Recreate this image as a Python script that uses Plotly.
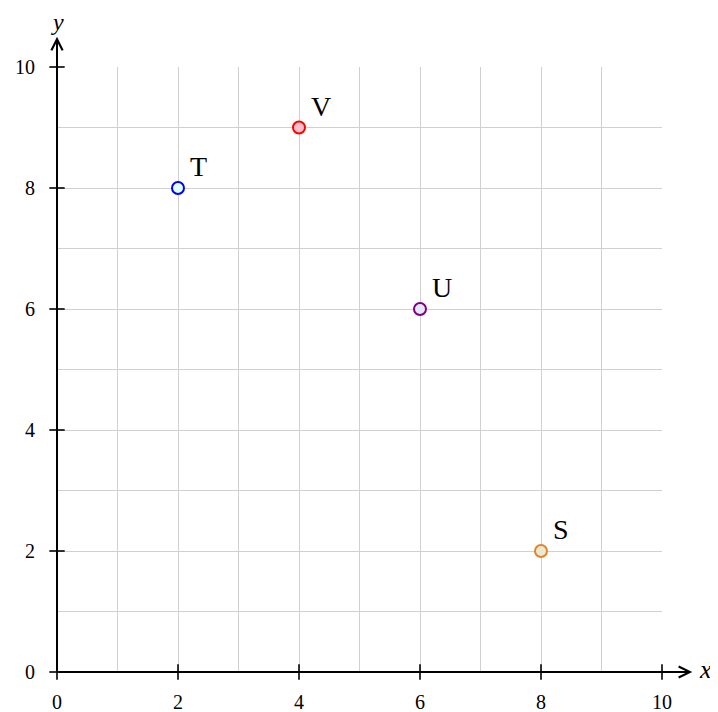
import plotly.graph_objects as go

# ---- data ----
labels = ["T", "V", "U", "S"]
xs = [2, 4, 6, 8]
ys = [8, 9, 6, 2]
edge_colors = ["#0000FF", "#FF0000", "#800080", "#E0862A"]
fill_colors = ["#E0FFFF", "#FFC0CB", "#E6E6FA", "#EDE8CF"]

tick_vals = [0, 2, 4, 6, 8, 10]
grid_vals = list(range(0, 11))
axis_max = 10
arrow_end = 10.5

FONT = "Liberation Serif"

fig = go.Figure()

# tick marks crossing the axes
fig.add_trace(go.Scatter(
    x=tick_vals, y=[0] * len(tick_vals), mode="markers",
    marker=dict(symbol="line-ns", size=11, line=dict(color="black", width=1.6)),
    cliponaxis=False, hoverinfo="skip", showlegend=False))
fig.add_trace(go.Scatter(
    x=[0] * len(tick_vals), y=tick_vals, mode="markers",
    marker=dict(symbol="line-ew", size=11, line=dict(color="black", width=1.6)),
    cliponaxis=False, hoverinfo="skip", showlegend=False))

# axis arrows
fig.add_annotation(x=arrow_end, y=0, ax=0, ay=0, xref="x", yref="y", axref="x", ayref="y",
                   showarrow=True, arrowhead=5, arrowsize=1.1, arrowwidth=2, arrowcolor="black", text="")
fig.add_annotation(x=0, y=arrow_end, ax=0, ay=0, xref="x", yref="y", axref="x", ayref="y",
                   showarrow=True, arrowhead=5, arrowsize=1.1, arrowwidth=2, arrowcolor="black", text="")

# axis titles (paper coordinates so they are never hidden)
fig.add_annotation(x=arrow_end / axis_max, y=0, xref="paper", yref="paper", text="<i>x</i>",
                   showarrow=False, xanchor="left", yanchor="middle", xshift=6, yshift=3,
                   borderpad=0, font=dict(family=FONT, size=26, color="black"))
fig.add_annotation(x=0, y=arrow_end / axis_max, xref="paper", yref="paper", text="<i>y</i>",
                   showarrow=False, xanchor="center", yanchor="middle", yshift=15, xshift=0,
                   borderpad=0, font=dict(family=FONT, size=24, color="black"))

# points
for lab, x, y, ec, fc in zip(labels, xs, ys, edge_colors, fill_colors):
    fig.add_trace(go.Scatter(
        x=[x], y=[y], mode="markers",
        marker=dict(size=12, color=fc, line=dict(color=ec, width=2)),
        cliponaxis=False, showlegend=False, name=lab))
    fig.add_annotation(x=x, y=y, text=lab, showarrow=False, xanchor="left", yanchor="bottom",
                       xshift=10, yshift=4, font=dict(family=FONT, size=28, color="black"))

labels_txt = [str(v) if v in tick_vals else "" for v in grid_vals]
axis_common = dict(
    range=[0, axis_max], showgrid=True, gridcolor="#D0D0D0", gridwidth=1,
    showline=False, zeroline=False, ticks="", automargin=False,
    tickvals=grid_vals, ticktext=labels_txt,
    tickfont=dict(family=FONT, size=20, color="black"),
)
fig.update_xaxes(**axis_common, ticklabelstandoff=16)
fig.update_yaxes(**axis_common, ticklabelstandoff=21)

# page body has an 8px margin: figure sized to fit the 718x712 window
fig.update_layout(
    width=710, height=704,
    margin=dict(l=49, r=56, t=59, b=40, autoexpand=False),
    plot_bgcolor="white", paper_bgcolor="white",
    showlegend=False,
)

fig.write_html("out.html")
